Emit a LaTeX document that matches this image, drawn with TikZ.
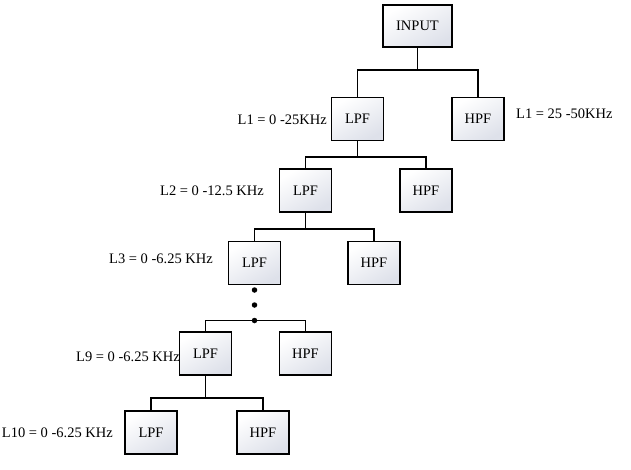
\documentclass[tikz,border=0pt]{standalone}
\usepackage{fontspec}
\setmainfont{Liberation Serif}
\begin{document}
\begin{tikzpicture}[x=1pt,y=-1pt,
  fbox/.style={draw=black,line width=1.6pt,minimum width=52pt,minimum height=43pt,inner sep=0pt,
    top color=white,bottom color={rgb,255:red,222;green,225;blue,234},shading angle=30,
    font=\fontsize{14.5}{17}\selectfont},
  lbl/.style={inner sep=0pt,font=\fontsize{14.5}{17}\selectfont},
  conn/.style={line width=1.6pt},
  dotn/.style={circle,fill=black,inner sep=0pt,minimum size=5.5pt}]
\useasboundingbox (0,0) rectangle (631,469);
% nodes
\node[fbox,minimum width=69pt,minimum height=42pt] (in) at (417.5,26) {INPUT};
\node[fbox] (l1) at (357.5,119) {LPF};
\node[fbox] (h1) at (478,119) {HPF};
\node[fbox] (l2) at (305.5,190.5) {LPF};
\node[fbox] (h2) at (426,190.5) {HPF};
\node[fbox] (l3) at (254.5,263) {LPF};
\node[fbox] (h3) at (374,263) {HPF};
\node[fbox] (l4) at (205.5,353.5) {LPF};
\node[fbox] (h4) at (305.5,353.5) {HPF};
\node[fbox] (l5) at (151,432.5) {LPF};
\node[fbox] (h5) at (263,432.5) {HPF};
% junctions
\coordinate (j1) at (417.5,70);
\coordinate (j2) at (357.5,157);
\coordinate (j3) at (305.5,229);
\coordinate (j5) at (205.5,398);
% dots
\node[dotn] (d1) at (254.5,290) {};
\node[dotn] (d2) at (254.5,305) {};
\node[dotn] (d3) at (254.5,320.5) {};
% connectors
\draw[conn] (in.south) -- (j1);
\draw[conn] (l1.north) |- (j1) -| (h1.north);
\draw[conn] (l1.south) -- (j2);
\draw[conn] (l2.north) |- (j2) -| (h2.north);
\draw[conn] (l2.south) -- (j3);
\draw[conn] (l3.north) |- (j3) -| (h3.north);
\draw[conn] (l4.north) |- (d3.center) -| (h4.north);
\draw[conn] (l4.south) -- (j5);
\draw[conn] (l5.north) |- (j5) -| (h5.north);
% labels
\node[lbl,anchor=west] (t1) at (516,114) {L1 = 25 -50KHz};
\node[lbl,anchor=east] (t2) at (327,120) {L1 = 0 -25KHz};
\node[lbl,anchor=east] (t3) at (264,191) {L2 = 0 -12.5 KHz};
\node[lbl,anchor=east] (t4) at (213,259) {L3 = 0 -6.25 KHz};
\node[lbl,anchor=east] (t5) at (180,357) {L9 = 0 -6.25 KHz};
\node[lbl,anchor=east] (t6) at (113,433) {L10 = 0 -6.25 KHz};
\end{tikzpicture}
\end{document}
